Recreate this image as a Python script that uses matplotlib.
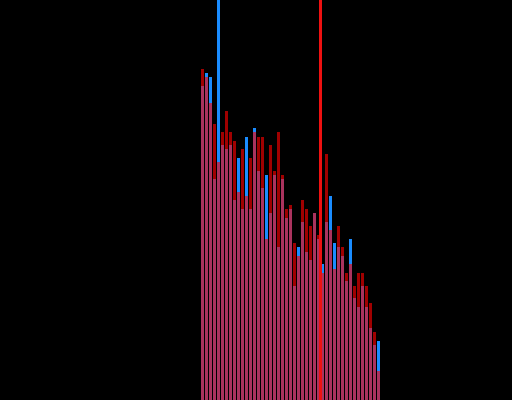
import matplotlib
matplotlib.use("Agg")
import matplotlib.pyplot as plt
import numpy as np

# bin counts (45 bins)
blue_counts = [314, 327, 323, 221, 460, 255, 251, 255, 200, 242, 191, 263, 191, 272, 229,
               212, 225, 187, 225, 153, 221, 182, 191, 114, 153, 178, 148, 140, 187, 161,
               136, 178, 204, 157, 153, 144, 119, 161, 102, 93, 114, 93, 72, 55, 59]
red_counts = [331, 323, 297, 276, 238, 268, 289, 268, 259, 208, 251, 204, 242, 268, 263,
              263, 161, 255, 229, 268, 225, 191, 195, 157, 144, 200, 191, 174, 187, 165,
              127, 246, 170, 131, 174, 153, 127, 136, 114, 127, 127, 114, 97, 68, 29]
marker_bin = 29.45

bins = np.arange(len(blue_counts))

fig = plt.figure(figsize=(5.12, 4.0), dpi=100, facecolor="black")
ax = fig.add_axes([0, 0, 1, 1])
ax.set_facecolor("black")

ax.bar(bins, blue_counts, width=0.75, color="#1a8cff", linewidth=0)
ax.bar(bins, red_counts, width=0.75, color="#ff0000", alpha=0.63, linewidth=0)
# bright marker line, kept crisp
ax.axvline(marker_bin, color="#ee1111", linewidth=1.0, antialiased=False, zorder=5)

ax.set_xlim(-50.625, 77.375)
ax.set_ylim(0, 400)
ax.axis("off")

fig.savefig("out.png", dpi=100, facecolor="black")
